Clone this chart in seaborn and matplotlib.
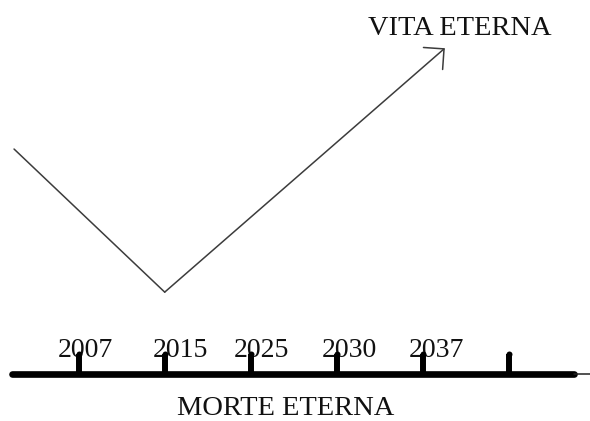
import matplotlib
matplotlib.use("Agg")
import matplotlib.pyplot as plt
import pandas as pd
import seaborn as sns

# timeline: years shown above the ticks, last tick has no label
YEARS = ["2007", "2015", "2025", "2030", "2037", ""]
TICK_POS = [0, 1, 2, 3, 4, 5]

# the V path (x in tick units, y in tick-spacing units above the timeline)
PATH_X = [-0.748, 1.0, 4.25]
PATH_Y = [2.61, 0.95, 3.78]

TOP_LABEL = "VITA ETERNA"
BOTTOM_LABEL = "MORTE ETERNA"

# small horizontal nudges of the year labels relative to their tick
LABEL_SHIFT = [0.08, 0.18, 0.12, 0.14, 0.15, 0.0]

sns.set_theme(style="white")
plt.rcParams["font.family"] = ["Liberation Serif", "DejaVu Serif"]

fig = plt.figure(figsize=(5.9, 4.21), dpi=100)
ax = fig.add_axes([0, 0, 1, 1])
ax.set_xlim(-0.911, 5.934)
ax.set_ylim(-0.545, 4.339)
ax.axis("off")

line_col = "#3c3c3c"

# descending / ascending line, last segment drawn as an arrow
path = pd.DataFrame({"x": PATH_X[:2], "y": PATH_Y[:2]})
sns.lineplot(data=path, x="x", y="y", ax=ax, color=line_col, linewidth=1.1, sort=False)
ax.annotate("", xy=(PATH_X[2], PATH_Y[2]), xytext=(PATH_X[1], PATH_Y[1]),
            arrowprops=dict(arrowstyle="->,head_length=0.5,head_width=0.5",
                            color=line_col, lw=1.1,
                            mutation_scale=21, shrinkA=0, shrinkB=0))

# timeline bar
ax.plot([-0.775, 5.745], [0, 0], color="black", linewidth=4.8, solid_capstyle="round", zorder=3)
ax.plot([5.745, 5.934], [0, 0], color="#222222", linewidth=1.1, zorder=3)
ax.vlines(TICK_POS, 0, 0.235, color="black", linewidth=4.3, zorder=3)
ax.plot(TICK_POS, [0.235] * len(TICK_POS), linestyle="none", marker="o",
        markersize=4.3, markeredgewidth=0, color="black", zorder=3)

for pos, year, shift in zip(TICK_POS, YEARS, LABEL_SHIFT):
    if year:
        ax.text(pos + shift, 0.197, year, fontsize=20, ha="center", va="baseline",
                color="#111111", zorder=2)

ax.text(4.426, 3.933, TOP_LABEL, fontsize=20.5, ha="center", va="baseline", color="#111111")
ax.text(2.407, -0.47, BOTTOM_LABEL, fontsize=20.5, ha="center", va="baseline", color="#111111")

fig.savefig("out.png", dpi=100, facecolor="white")
